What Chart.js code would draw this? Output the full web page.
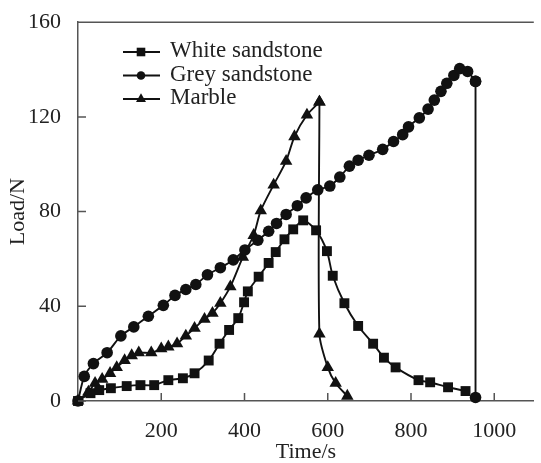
<!DOCTYPE html>
<html>
<head>
<meta charset="utf-8">
<script src="https://cdn.jsdelivr.net/npm/chart.js@4.4.1/dist/chart.umd.min.js"></script>
<style>
  html, body { margin: 0; padding: 0; background: #fff; }
  canvas { display: block; }
</style>
</head>
<body>
<canvas id="chart" width="541" height="463"></canvas>
<script>
// load (N) vs time (s) for the three rock samples
const whiteTime = [0, 30, 51, 79, 117, 150, 183, 217, 252, 280, 314, 340, 363, 385, 399, 408, 434, 458, 475, 496, 517, 541, 572, 598, 612, 640, 673, 709, 735, 763, 818, 846, 889, 931];
const whiteLoad = [0, 3.3, 4.6, 5.4, 6.3, 6.7, 6.7, 8.8, 9.6, 11.7, 17.1, 24.2, 30, 35, 41.7, 46.3, 52.5, 58.3, 62.9, 68.3, 72.5, 76.3, 72.1, 63.3, 52.9, 41.3, 31.7, 24.2, 18.3, 14.2, 8.8, 7.9, 5.8, 4.2];

const greyTime = [0, 15, 37, 70, 103, 134, 169, 205, 233, 259, 283, 311, 342, 373, 401, 432, 458, 477, 500, 527, 548, 576, 605, 629, 652, 673, 699, 732, 758, 780, 794, 820, 841, 856, 872, 886, 903, 917, 936, 955, 955];
const greyLoad = [0, 10.4, 15.8, 20.4, 27.5, 31.3, 35.8, 40.4, 44.6, 47.1, 49.2, 53.3, 56.3, 59.6, 63.8, 67.9, 71.7, 75, 78.8, 82.5, 85.8, 89.2, 90.8, 94.6, 99.2, 101.7, 103.8, 106.3, 109.6, 112.5, 115.8, 119.6, 123.3, 127.1, 130.8, 134.2, 137.5, 140.4, 139.2, 135, 1.5];
const greyBreak = 39; // sample fails here, load drops straight down

const marbleTime = [0, 25, 41, 58, 77, 93, 112, 129, 146, 176, 200, 217, 238, 259, 280, 304, 323, 342, 366, 396, 422, 439, 470, 500, 520, 550, 580, 580, 600, 619, 647];
const marbleLoad = [0, 3.8, 7.5, 9.2, 11.7, 14.2, 17.1, 19.2, 20.4, 20.4, 22.1, 22.9, 24.2, 27.5, 30.8, 34.6, 37.1, 41.3, 48.3, 60.8, 70, 80.4, 91.3, 101.3, 111.7, 120.8, 126.3, 28.3, 14.2, 7.5, 2.1];
const marbleBreak = 26;

const seriesNames = ['White sandstone', 'Grey sandstone', 'Marble'];
const seriesMarkers = ['rect', 'circle', 'triangle'];
const xTicks = [200, 400, 600, 800, 1000];
const yTicks = [0, 40, 80, 120, 160];

const INK = '#111';
const AXIS = '#555';
const FONT = "'Liberation Serif', 'Times New Roman', serif";

const pts = (ts, ls, from, to) => ts.slice(from, to).map((t, i) => ({ x: t, y: ls[from + i] }));

const line = (data, marker, radius, extra) => Object.assign({
    data: data,
    borderColor: INK,
    backgroundColor: INK,
    borderWidth: 1.9,
    pointStyle: marker,
    pointRadius: radius,
    pointBorderWidth: 0,
    pointBackgroundColor: INK,
    tension: 0.25,
    clip: false,
}, extra || {});

const datasets = [
    line(pts(whiteTime, whiteLoad, 0, whiteTime.length), 'rect', 7, { label: seriesNames[0] }),
    line(pts(greyTime, greyLoad, 0, greyBreak + 1), 'circle', 5.8, { label: seriesNames[1] }),
    line(pts(greyTime, greyLoad, greyBreak, greyTime.length), 'circle', 5.8, { tension: 0 }),
    line(pts(marbleTime, marbleLoad, 0, marbleBreak + 1), 'triangle', 7.2, { label: seriesNames[2] }),
    line(pts(marbleTime, marbleLoad, marbleBreak, marbleTime.length), 'triangle', 7.2),
];

// top border and inward tick marks
const frame = {
    id: 'frame',
    afterDatasetsDraw(chart) {
        const { ctx, chartArea: a, scales } = chart;
        ctx.save();
        ctx.strokeStyle = AXIS;
        ctx.lineWidth = 1.5;
        ctx.beginPath();
        ctx.moveTo(a.left, a.top);
        ctx.lineTo(a.right, a.top);
        xTicks.forEach(v => {
            const px = scales.x.getPixelForValue(v);
            ctx.moveTo(px, a.bottom);
            ctx.lineTo(px, a.bottom - 8);
        });
        yTicks.forEach(v => {
            const py = scales.y.getPixelForValue(v);
            ctx.moveTo(a.left, py);
            ctx.lineTo(a.left + 8, py);
        });
        ctx.stroke();
        ctx.restore();
    }
};

function drawMarker(ctx, style, x, y, r) {
    ctx.beginPath();
    if (style === 'rect') {
        ctx.rect(x - r, y - r, 2 * r, 2 * r);
    } else if (style === 'circle') {
        ctx.arc(x, y, r, 0, Math.PI * 2);
    } else {
        ctx.moveTo(x, y - r * 1.15);
        ctx.lineTo(x + r, y + r * 0.6);
        ctx.lineTo(x - r, y + r * 0.6);
        ctx.closePath();
    }
    ctx.fill();
}

const legendBox = {
    id: 'legendBox',
    afterDraw(chart) {
        const ctx = chart.ctx;
        ctx.save();
        ctx.strokeStyle = INK;
        ctx.fillStyle = INK;
        ctx.lineWidth = 1.8;
        ctx.font = '23px ' + FONT;
        ctx.textBaseline = 'middle';
        seriesNames.forEach((name, i) => {
            const y = 52 + i * 23.5;
            ctx.beginPath();
            ctx.moveTo(123, y);
            ctx.lineTo(160, y);
            ctx.stroke();
            drawMarker(ctx, seriesMarkers[i], 141, y, seriesMarkers[i] === 'triangle' ? 5 : 4.3);
            ctx.fillStyle = '#222';
            ctx.fillText(name, 170, y - 1);
            ctx.fillStyle = INK;
        });
        ctx.restore();
    }
};

new Chart(document.getElementById('chart').getContext('2d'), {
    type: 'line',
    data: { datasets: datasets },
    plugins: [frame, legendBox],
    options: {
        responsive: false,
        animation: false,
        layout: { padding: { top: 18, right: 0, left: 0, bottom: 0 } },
        plugins: {
            legend: { display: false },
            tooltip: { enabled: false },
        },
        scales: {
            x: {
                type: 'linear',
                min: 0,
                max: 1095,
                afterBuildTicks: (scale) => { scale.ticks = xTicks.map(v => ({ value: v })); },
                afterFit: (scale) => { scale.height = 62; },
                grid: { display: false },
                border: { display: true, color: AXIS, width: 1.5 },
                ticks: {
                    color: '#222',
                    padding: 9,
                    maxRotation: 0,
                    font: { family: FONT, size: 22 },
                    callback: (v) => String(v),
                },
                title: {
                    display: true,
                    text: 'Time/s',
                    color: '#222',
                    padding: { top: 0, bottom: 0 },
                    font: { family: FONT, size: 22, lineHeight: 1 },
                },
            },
            y: {
                min: 0,
                max: 160,
                afterBuildTicks: (scale) => { scale.ticks = yTicks.map(v => ({ value: v })); },
                afterFit: (scale) => { scale.width = 78; },
                grid: { display: false },
                border: { display: true, color: AXIS, width: 1.5 },
                ticks: {
                    color: '#222',
                    padding: 9,
                    font: { family: FONT, size: 22 },
                    callback: (v) => String(v),
                },
                title: {
                    display: true,
                    text: 'Load/N',
                    color: '#222',
                    padding: { top: 7, bottom: 0 },
                    font: { family: FONT, size: 22, lineHeight: 1 },
                },
            },
        },
    },
});
</script>
</body>
</html>
